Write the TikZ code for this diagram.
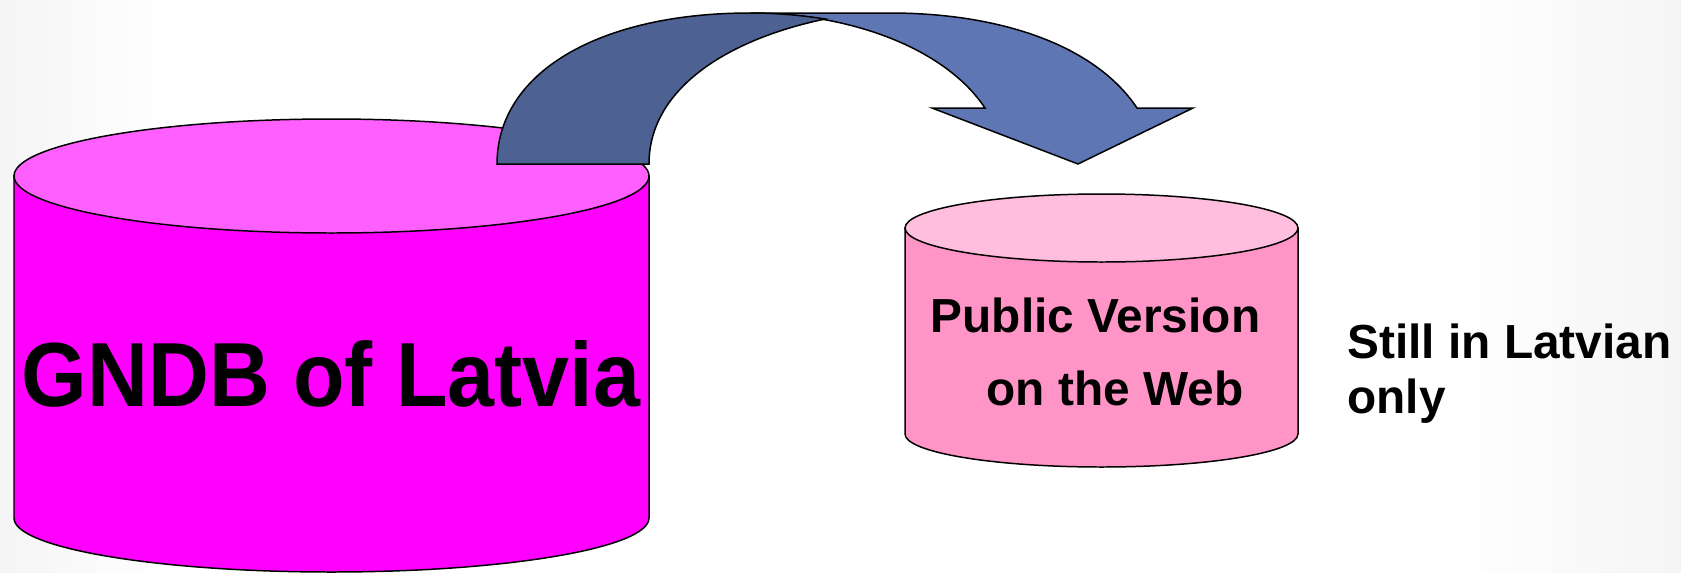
\documentclass[tikz,border=0pt]{standalone}
\usepackage{fontspec}
\setmainfont{Liberation Sans}
\usepackage{tikz}

\definecolor{bigbody}{RGB}{255,0,255}
\definecolor{bigtop}{RGB}{255,95,255}
\definecolor{smallbody}{RGB}{255,148,198}
\definecolor{smalltop}{RGB}{255,190,222}
\definecolor{arrowdark}{RGB}{77,97,146}
\definecolor{arrowblue}{RGB}{95,118,180}

\begin{document}
\begin{tikzpicture}[x=0.02cm,y=-0.02cm,
	outline/.style={draw=black,line width=0.85pt},
	label/.style={inner sep=0pt,font=\bfseries\fontsize{27.2}{32}\selectfont}]
	\useasboundingbox (0,0) rectangle (1681,572);
	\fill[white] (0,0) rectangle (1681,572);
	\shade[left color=black!4,right color=white] (0,0) rectangle (170,572);
	\shade[left color=white,right color=black!4] (1450,0) rectangle (1681,572);
	
	%Big cylinder
	\filldraw[outline,fill=bigbody] (14,176)--(14,518) arc (180:0:317.5 and 54)--(649,176)--cycle;
	\filldraw[outline,fill=bigtop] (331.5,176) ellipse (317.5 and 57);
	\node[inner sep=0pt,font=\bfseries\fontsize{48}{56}\selectfont,yscale=1.08] (gndb) at (331,374) {GNDB of Latvia};
	
	%Small cylinder
	\filldraw[outline,fill=smallbody] (905,228)--(905,434) arc (180:0:196.5 and 33)--(1298,228)--cycle;
	\filldraw[outline,fill=smalltop] (1101.5,228) ellipse (196.5 and 34);
	\node[label] (public) at (1095.5,315) {Public Version};
	\node[label] (web) at (1115,388) {on the Web};
	
	%Side text
	\node[label,anchor=west] (still) at (1347,341) {Still in Latvian};
	\node[label,anchor=west] (only) at (1347,401) {only};
	
	%Curved arrow
	\filldraw[outline,fill=arrowblue] (750,13)--(890,13) .. controls (1000,13) and (1095,45) .. (1137,108)
		--(1193,108)--(1078,164)--(932,108)--(985,108) .. controls (945,48) and (850,13) .. (750,13)--cycle;
	\filldraw[outline,fill=arrowdark] (497,164) .. controls (497,72) and (600,13) .. (750,13)
		.. controls (775,13) and (800,15) .. (825,19) .. controls (725,40) and (649,90) .. (649,164)--cycle;
\end{tikzpicture}
\end{document}
